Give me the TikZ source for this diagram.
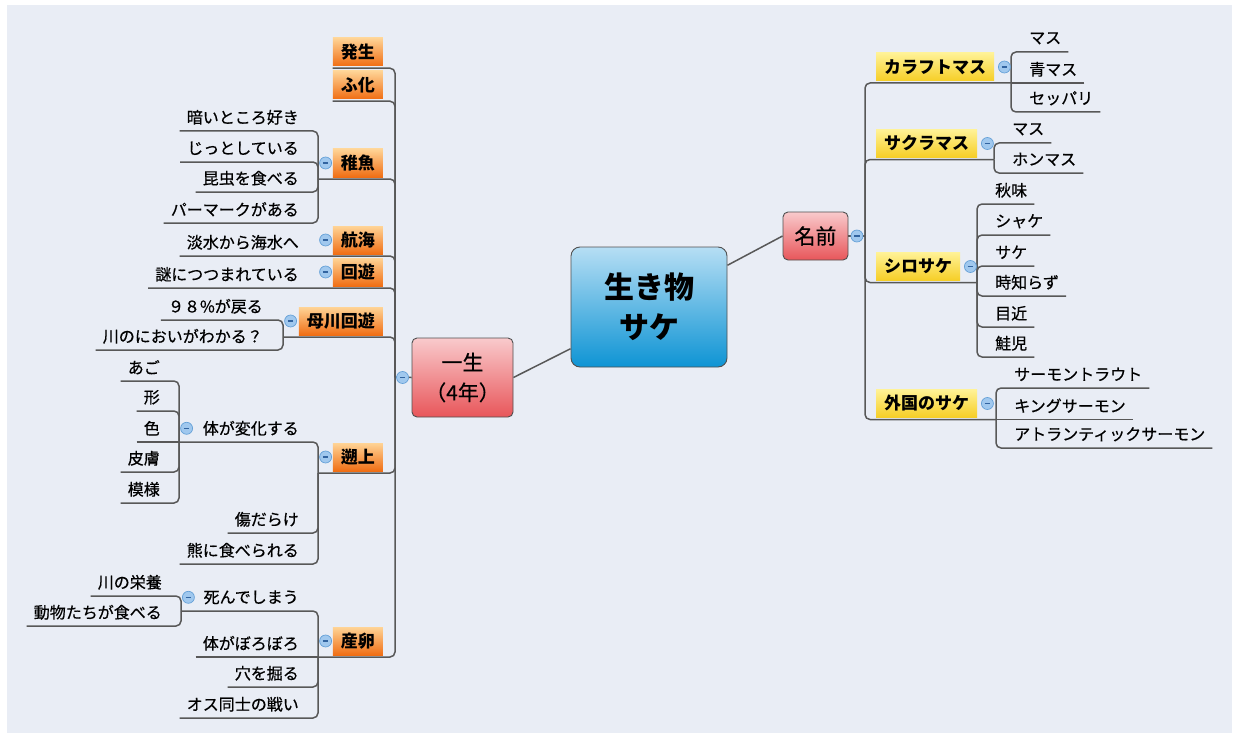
\documentclass[tikz,border=0pt]{standalone}
\usepackage{fontspec}
\setmainfont{Noto Sans CJK JP}
\newfontface\medface{Noto Sans CJK JP}[FakeBold=0.6]
\definecolor{bgc}{RGB}{233,237,245}
\definecolor{linec}{RGB}{88,88,88}
\definecolor{orT}{RGB}{255,212,150}
\definecolor{orB}{RGB}{240,110,20}
\definecolor{yeT}{RGB}{255,242,150}
\definecolor{yeB}{RGB}{246,206,38}
\definecolor{rdT}{RGB}{249,202,204}
\definecolor{rdB}{RGB}{232,86,90}
\definecolor{blT}{RGB}{182,222,244}
\definecolor{blB}{RGB}{14,148,212}
\definecolor{btnF}{RGB}{160,200,238}
\definecolor{btnD}{RGB}{100,160,215}
\definecolor{btnM}{RGB}{50,100,160}
\definecolor{bordc}{RGB}{80,80,80}
\newcommand\leaffont{\fontsize{16}{19}\selectfont\medface}
\newcommand\boxfont{\fontsize{17}{20}\selectfont\bfseries}
\begin{document}
\begin{tikzpicture}[x=1pt,y=-1pt,
  conn/.style={draw=linec, line width=1.5pt, rounded corners=5pt},
  leaf/.style={inner xsep=7pt, inner ysep=0pt, minimum height=27pt, font=\leaffont, text=black},
  obox/.style={top color=orT, bottom color=orB, inner xsep=8pt, inner ysep=0pt, minimum height=28pt, font=\boxfont},
  ybox/.style={top color=yeT, bottom color=yeB, inner xsep=8pt, inner ysep=0pt, minimum height=28pt, font=\boxfont},
  redbox/.style={top color=rdT, bottom color=rdB, draw=bordc, line width=0.9pt, rounded corners=5pt, align=center, inner sep=0pt},
  centre/.style={top color=blT, bottom color=blB, draw=bordc, line width=0.9pt, rounded corners=9pt, align=center, inner sep=0pt, minimum width=156pt, minimum height=120pt, font=\fontsize{30}{40}\selectfont\bfseries},
  btn/.style={circle, fill=btnF, draw=btnD, line width=0.7pt, minimum size=12pt, inner sep=0pt,
    path picture={\draw[btnM, line width=1.1pt] ([xshift=-2.8pt]path picture bounding box.center) -- ([xshift=2.8pt]path picture bounding box.center);}}
]
\useasboundingbox (0,0) rectangle (1234,733);
\fill[bgc] (7,5) rectangle (1232,733);

% ---------- centre and main topics ----------
\node[centre] (sake) at (649,307) {生き物\\サケ};
\node[redbox, minimum width=101pt, minimum height=79pt, font=\fontsize{21}{30}\selectfont\medface] (issei) at (462.5,377.5) {一生\\（4年）};
\node[redbox, minimum width=65pt, minimum height=48pt, font=\fontsize{21}{24}\selectfont\medface] (namae) at (815.5,236) {名前};

\coordinate (T) at (395,377);
\coordinate (R) at (865,236);

\draw[conn, rounded corners=0pt] (sake.208) -- (issei.east);
\draw[conn, rounded corners=0pt] (sake.28) -- (namae.west);
\draw[conn] (T) -- (issei.west);
\draw[conn] (namae.east) -- (R);

% ---------- left: orange topics ----------
\node[obox, anchor=east] (hassei) at (383,52) {発生};
\node[obox, anchor=east] (fuka) at (383,85) {ふ化};
\node[obox, anchor=east] (chigyo) at (383,163) {稚魚};
\node[obox, anchor=east] (kokai) at (383,240) {航海};
\node[obox, anchor=east] (kaiyu) at (383,272) {回遊};
\node[obox, anchor=east] (bosen) at (383,321) {母川回遊};
\node[obox, anchor=east] (sojo) at (383,457) {遡上};
\node[obox, anchor=east] (sanran) at (383,641) {産卵};

\coordinate (p1) at ([yshift=-2pt]hassei.south west);
\coordinate (p2) at ([yshift=-2pt]fuka.south west);
\draw[conn] (p1) -- (p1 -| T) -- (T);
\draw[conn] (p2) -- (p2 -| T) -- (T);

% 稚魚
\coordinate (v1) at (318,179);
\draw[conn] (v1) -- (v1 -| T) -- (T);
\node[leaf, anchor=south east] (c1a) at (306,131) {暗いところ好き};
\node[leaf, anchor=south east] (c1b) at (306,162) {じっとしている};
\node[leaf, anchor=south east] (c1c) at (306,192) {昆虫を食べる};
\node[leaf, anchor=south east] (c1d) at (306,223) {パーマークがある};
\foreach \c in {c1a,c1b,c1c,c1d} \draw[conn] (\c.south west) -- (\c.south west -| v1) -- (v1);

% 航海
\coordinate (v2) at (318,256);
\node[leaf, anchor=south east] (c2a) at (306,256) {淡水から海水へ};
\draw[conn] (c2a.south west) -- (v2) -- (v2 -| T) -- (T);

% 回遊
\coordinate (v3) at (318,288);
\node[leaf, anchor=south east] (c3a) at (306,288) {謎につつまれている};
\draw[conn] (c3a.south west) -- (v3) -- (v3 -| T) -- (T);

% 母川回遊
\coordinate (v4) at (283,337);
\draw[conn] (v4) -- (v4 -| T) -- (T);
\node[leaf, anchor=south east] (c4a) at (270,320) {９８\%が戻る};
\node[leaf, anchor=south east] (c4b) at (270,350) {川のにおいがわかる？};
\foreach \c in {c4a,c4b} \draw[conn] (\c.south west) -- (\c.south west -| v4) -- (v4);

% 遡上
\coordinate (v5) at (318,473);
\draw[conn] (v5) -- (v5 -| T) -- (T);
\node[leaf, anchor=south east] (c5a) at (306,442) {体が変化する};
\node[leaf, anchor=south east] (c5b) at (306,533) {傷だらけ};
\node[leaf, anchor=south east] (c5c) at (306,564) {熊に食べられる};
\coordinate (v6) at (179,442);
\draw[conn] (v6) -- (v6 -| v5) -- (v5);
\foreach \c in {c5b,c5c} \draw[conn] (\c.south west) -- (\c.south west -| v5) -- (v5);
\node[leaf, anchor=south east] (c6a) at (167,381) {あご};
\node[leaf, anchor=south east] (c6b) at (167,411) {形};
\node[leaf, anchor=south east] (c6c) at (167,442) {色};
\node[leaf, anchor=south east] (c6d) at (167,472) {皮膚};
\node[leaf, anchor=south east] (c6e) at (167,503) {模様};
\foreach \c in {c6a,c6b,c6d,c6e} \draw[conn] (\c.south west) -- (\c.south west -| v6) -- (v6);
\draw[conn] (c6c.south west) -- (v6);

% 産卵
\coordinate (v7) at (318,657);
\draw[conn] (v7) -- (v7 -| T) -- (T);
\node[leaf, anchor=south east] (c7a) at (306,611) {死んでしまう};
\node[leaf, anchor=south east] (c7b) at (306,657) {体がぼろぼろ};
\node[leaf, anchor=south east] (c7c) at (306,687) {穴を掘る};
\node[leaf, anchor=south east] (c7d) at (306,718) {オス同士の戦い};
\coordinate (v8) at (181,611);
\draw[conn] (v8) -- (v8 -| v7) -- (v7);
\draw[conn] (c7b.south west) -- (v7);
\foreach \c in {c7c,c7d} \draw[conn] (\c.south west) -- (\c.south west -| v7) -- (v7);
\node[leaf, anchor=south east] (c8a) at (169,596) {川の栄養};
\node[leaf, anchor=south east] (c8b) at (169,626) {動物たちが食べる};
\foreach \c in {c8a,c8b} \draw[conn] (\c.south west) -- (\c.south west -| v8) -- (v8);

% ---------- right: yellow topics ----------
\node[ybox, anchor=west] (kara) at (876,67) {カラフトマス};
\node[ybox, anchor=west] (sakura) at (876,143.5) {サクラマス};
\node[ybox, anchor=west] (shiro) at (876,266.5) {シロサケ};
\node[ybox, anchor=west] (gaikoku) at (876,403.5) {外国のサケ};

% カラフトマス
\coordinate (w1) at (1011,83);
\draw[conn] (w1) -- (w1 -| R) -- (R);
\node[leaf, anchor=south west] (d1a) at (1022,52) {マス};
\node[leaf, anchor=south west] (d1b) at (1022,83) {青マス};
\node[leaf, anchor=south west] (d1c) at (1022,112) {セッパリ};
\foreach \c in {d1a,d1c} \draw[conn] (\c.south east) -- (\c.south east -| w1) -- (w1);
\draw[conn] (d1b.south east) -- (w1);

% サクラマス
\coordinate (w2) at (994,159.5);
\draw[conn] (w2) -- (w2 -| R) -- (R);
\node[leaf, anchor=south west] (d2a) at (1005,143) {マス};
\node[leaf, anchor=south west] (d2b) at (1005,173) {ホンマス};
\foreach \c in {d2a,d2b} \draw[conn] (\c.south east) -- (\c.south east -| w2) -- (w2);

% シロサケ
\coordinate (w3) at (977,282.5);
\draw[conn] (w3) -- (w3 -| R) -- (R);
\node[leaf, anchor=south west] (d3a) at (988,204) {秋味};
\node[leaf, anchor=south west] (d3b) at (988,235) {シャケ};
\node[leaf, anchor=south west] (d3c) at (988,266) {サケ};
\node[leaf, anchor=south west] (d3d) at (988,296) {時知らず};
\node[leaf, anchor=south west] (d3e) at (988,327) {目近};
\node[leaf, anchor=south west] (d3f) at (988,357) {鮭児};
\foreach \c in {d3a,d3b,d3c,d3d,d3e,d3f} \draw[conn] (\c.south east) -- (\c.south east -| w3) -- (w3);

% 外国のサケ
\coordinate (w4) at (996,419.5);
\draw[conn] (w4) -- (w4 -| R) -- (R);
\node[leaf, anchor=south west] (d4a) at (1007,388) {サーモントラウト};
\node[leaf, anchor=south west] (d4b) at (1007,419.5) {キングサーモン};
\node[leaf, anchor=south west] (d4c) at (1007,448) {アトランティックサーモン};
\foreach \c in {d4a,d4c} \draw[conn] (\c.south east) -- (\c.south east -| w4) -- (w4);
\draw[conn] (d4b.south east) -- (w4);

% ---------- collapse buttons ----------
\node[btn] (bi) at ([xshift=-9pt]issei.west) {};
\node[btn] (bn) at ([xshift=8.5pt]namae.east) {};
\node[btn] (bc) at ([xshift=-7pt]chigyo.west) {};
\node[btn] (bk) at ([xshift=-7pt]kokai.west) {};
\node[btn] (bu) at ([xshift=-7pt]kaiyu.west) {};
\node[btn] (bb) at ([xshift=-8pt]bosen.west) {};
\node[btn] (bs) at ([xshift=-7pt]sojo.west) {};
\node[btn] (br) at ([xshift=-7pt]sanran.west) {};
\node[btn] (bt) at ([xshift=-9pt]c5a.west) {};
\node[btn] (bd) at ([xshift=-8pt]c7a.west) {};
\node[btn] (by1) at ([xshift=10pt]kara.east) {};
\node[btn] (by2) at ([xshift=10pt]sakura.east) {};
\node[btn] (by3) at ([xshift=10pt]shiro.east) {};
\node[btn] (by4) at ([xshift=10pt]gaikoku.east) {};
\end{tikzpicture}
\end{document}
